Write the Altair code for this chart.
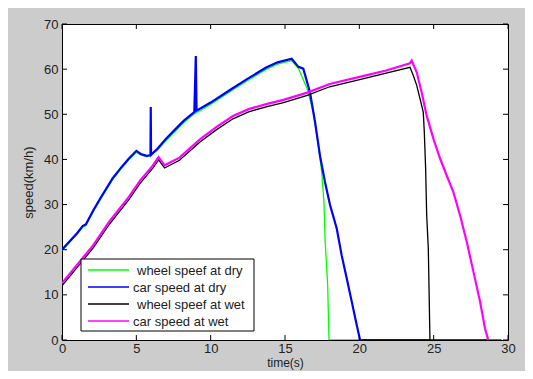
import altair as alt
import pandas as pd

# ---------------- data ----------------
t_wheel_dry = [0, 0.5, 1.0, 1.4, 1.6, 2.1, 2.6, 3.4, 4.0, 4.5, 5.0, 5.3, 5.7, 6.4, 7.0, 7.6, 8.2, 8.9,
               10.0, 11.4, 12.5, 13.7, 14.5, 15.45, 15.9, 16.5, 16.9, 17.24, 17.47, 17.62, 17.69, 17.87,
               17.96, 24.75]
v_wheel_dry = [19.8, 21.6, 23.4, 25.0, 25.3, 28.4, 31.2, 35.5, 38.0, 39.9, 41.6, 41.0, 40.6, 42.0, 44.2,
               46.2, 48.2, 50.1, 52.2, 55.2, 57.5, 59.9, 61.1, 61.9, 60.2, 55.6, 50.5, 43.1, 37.2, 30.6,
               22.5, 12.2, 0, 0]

t_car_dry = [0, 0.5, 1.0, 1.4, 1.6, 2.1, 2.6, 3.4, 4.0, 4.5, 5.0, 5.3, 5.7, 5.95, 5.97, 5.99, 6.4, 7.0,
             7.6, 8.2, 8.9, 9.0, 9.05, 10.0, 11.4, 12.5, 13.7, 14.5, 15.45, 15.9, 16.23, 16.68, 17.02,
             17.35, 17.69, 18.03, 18.48, 18.81, 19.15, 19.49, 19.82, 20.05, 24.75]
v_car_dry = [20.0, 21.8, 23.6, 25.3, 25.6, 28.7, 31.5, 35.8, 38.3, 40.2, 41.9, 41.2, 40.8, 40.9, 51.6,
             41.0, 42.3, 44.6, 46.6, 48.6, 50.5, 62.9, 50.8, 52.6, 55.6, 57.9, 60.3, 61.5, 62.3, 60.5,
             60.1, 54.9, 48.3, 40.9, 35.0, 29.9, 24.7, 18.8, 13.7, 8.5, 3.4, 0, 0]

t_wheel_wet = [0, 1.2, 2.1, 3.2, 4.5, 5.25, 6.1, 6.5, 6.9, 7.9, 9.3, 10.4, 11.5, 12.6, 13.8, 14.9, 16.5,
               18.0, 20.3, 21.8, 23.41, 23.63, 23.86, 24.19, 24.3, 24.37, 24.46, 24.53, 24.64, 24.75,
               28.8]
v_wheel_wet = [12.0, 16.8, 20.4, 25.7, 31.1, 34.7, 38.0, 39.9, 38.1, 39.8, 43.9, 46.6, 49.0, 50.6, 51.7,
               52.6, 54.2, 56.1, 57.9, 59.1, 60.4, 58.6, 56.4, 52.0, 50.5, 46.1, 38.0, 27.7, 20.3, 0, 0]

t_car_wet = [0, 1.2, 2.1, 3.2, 4.5, 5.25, 6.1, 6.5, 6.9, 7.9, 9.3, 10.4, 11.5, 12.6, 13.8, 14.9, 16.5,
             18.0, 20.3, 21.8, 23.4, 23.52, 23.86, 24.19, 24.53, 24.98, 25.43, 25.87, 26.32, 26.77,
             27.22, 27.67, 28.12, 28.45, 28.67, 29.57]
v_car_wet = [12.6, 17.4, 21.0, 26.3, 31.7, 35.3, 38.6, 40.5, 38.7, 40.4, 44.5, 47.2, 49.6, 51.2, 52.3,
             53.2, 54.8, 56.7, 58.5, 59.7, 61.3, 61.9, 59.3, 54.9, 49.7, 44.6, 40.2, 36.5, 32.8, 27.7,
             21.8, 15.2, 8.5, 2.6, 0, 0]

x_ticks = [0, 5, 10, 15, 20, 25, 30]
y_ticks = [0, 10, 20, 30, 40, 50, 60, 70]
legend_labels = ["wheel speef at dry", "car speed at dry", "wheel speef at wet", "car speed at wet"]
series_colors = ["#00ff00", "#0000ff", "#000000", "#ff00ff"]

# ---------------- layout ----------------
W, H = 446, 316
FONT = "Liberation Sans"
TXT = "#222222"

xs = alt.Scale(domain=[0, 30], nice=False, zero=False)
ys = alt.Scale(domain=[0, 70], nice=False, zero=False)

xaxis = alt.Axis(values=x_ticks, title="time(s)", ticks=False, domain=False, grid=False,
                 labelFlush=False, labelOverlap=False, labelPadding=2, titlePadding=2,
                 titleFontSize=12, format="d")
yaxis = alt.Axis(values=y_ticks, title="speed(km/h)", ticks=False, domain=False, grid=False,
                 labelFlush=False, labelOverlap=False, labelPadding=4, titlePadding=8,
                 format="d")


def series(t, v, color, sw):
    df = pd.DataFrame({"t": t, "v": v})
    return alt.Chart(df).mark_line(color=color, strokeWidth=sw, clip=True).encode(
        x=alt.X("t:Q", scale=xs, axis=xaxis),
        y=alt.Y("v:Q", scale=ys, axis=yaxis),
    )


layers = [
    series(t_wheel_dry, v_wheel_dry, series_colors[0], 1.3),
    series(t_car_dry, v_car_dry, series_colors[1], 2.2),
    series(t_wheel_wet, v_wheel_wet, series_colors[2], 1.3),
    series(t_car_wet, v_car_wet, series_colors[3], 2.2),
]

xt = pd.DataFrame({"v": x_ticks})
yt = pd.DataFrame({"v": y_ticks})
TL = 5
layers += [
    alt.Chart(xt).mark_rule(color="black", strokeWidth=1).encode(
        x=alt.X("v:Q", scale=xs, axis=xaxis), y=alt.value(H), y2=alt.value(H - TL)),
    alt.Chart(xt).mark_rule(color="black", strokeWidth=1).encode(
        x=alt.X("v:Q", scale=xs, axis=xaxis), y=alt.value(0), y2=alt.value(TL)),
    alt.Chart(yt).mark_rule(color="black", strokeWidth=1).encode(
        y=alt.Y("v:Q", scale=ys, axis=yaxis), x=alt.value(0), x2=alt.value(TL)),
    alt.Chart(yt).mark_rule(color="black", strokeWidth=1).encode(
        y=alt.Y("v:Q", scale=ys, axis=yaxis), x=alt.value(W), x2=alt.value(W - TL)),
]

# legend box
one = pd.DataFrame({"a": [0]})
layers.append(
    alt.Chart(one).mark_rect(fill="white", stroke="black", strokeWidth=1).encode(
        x=alt.value(19), x2=alt.value(192), y=alt.value(235), y2=alt.value(307))
)
for i, (lab, col) in enumerate(zip(legend_labels, series_colors)):
    yy = 246 + 17 * i
    layers.append(alt.Chart(one).mark_rule(color=col, strokeWidth=1.3).encode(
        x=alt.value(26), x2=alt.value(67), y=alt.value(yy)))
    tx = 75 if lab.startswith("wheel") else 71
    layers.append(alt.Chart(one).mark_text(align="left", baseline="middle", font=FONT, fontSize=13,
                                           color=TXT).encode(
        x=alt.value(tx), y=alt.value(yy + 0.5), text=alt.value(lab)))

chart = alt.layer(*layers).properties(
    width=W, height=H,
    padding={"left": 54, "top": 16, "right": 17, "bottom": 31},
    autosize=alt.AutoSizeParams(type="none"),
    background="#cccccc",
).configure_view(
    fill="white", stroke="black", strokeWidth=1
).configure_axis(
    labelFont=FONT, labelFontSize=13, labelColor=TXT,
    titleFont=FONT, titleFontSize=13, titleColor=TXT, titleFontWeight="normal",
)

chart.save("out.html", embed_options={"renderer": "svg", "actions": False})
